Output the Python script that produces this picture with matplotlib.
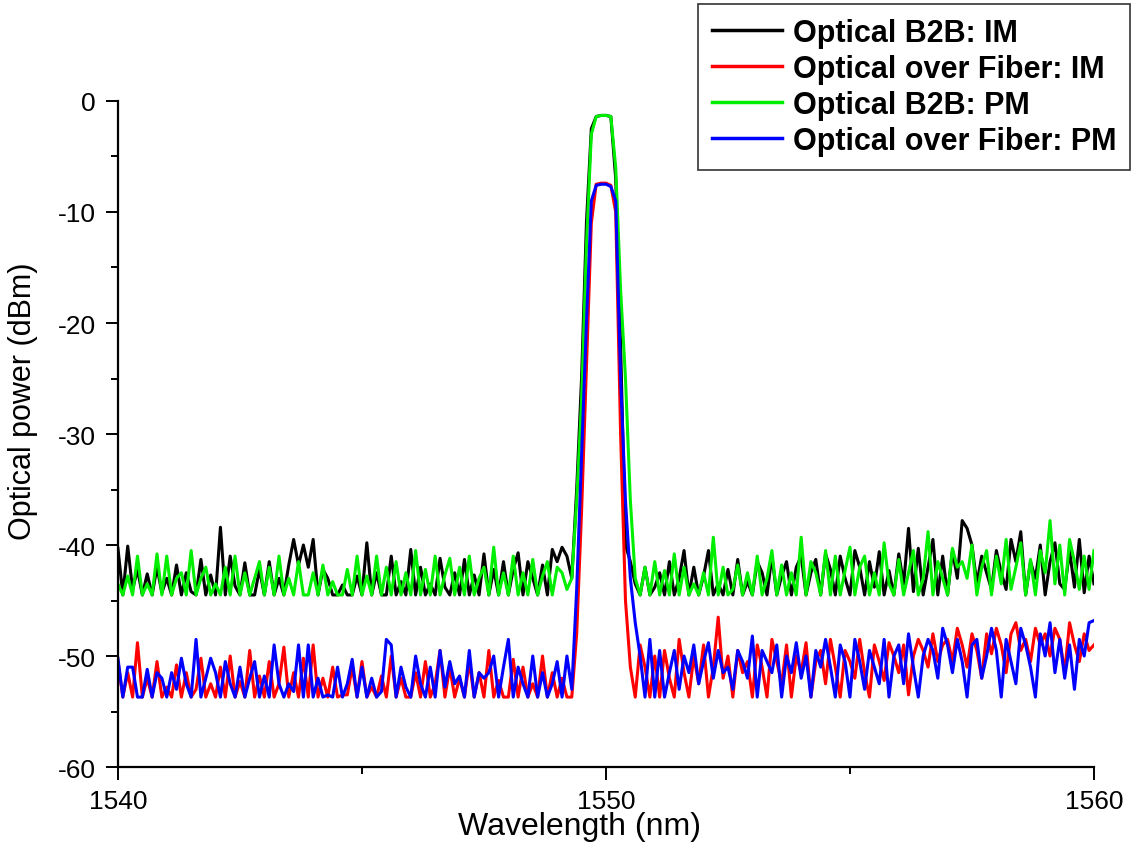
import numpy as np
import matplotlib
matplotlib.use("Agg")
import matplotlib.pyplot as plt
from matplotlib.ticker import MultipleLocator

# OSA sweep 1540-1560 nm, 0.1 nm resolution (201 samples)
wavelength = np.linspace(1540.0, 1560.0, 201)

# Optical B2B: IM (black)
b2b_im = [
    -40.3, -44.5, -40.1, -44.0, -42.2, -44.5, -42.6, -44.5, -42.0, -44.3,
    -43.0, -44.5, -41.8, -44.5, -42.5, -44.2, -44.5, -41.3, -44.5, -42.7,
    -44.5, -38.4, -44.5, -41.0, -43.7, -44.5, -41.6, -44.5, -44.5, -42.2,
    -44.5, -41.5, -44.5, -43.0, -44.5, -41.8, -39.5, -41.8, -40.0, -42.0,
    -39.5, -44.5, -42.2, -43.0, -44.5, -44.5, -43.6, -44.5, -44.5, -42.8,
    -44.5, -39.8, -44.5, -42.5, -44.5, -44.5, -41.0, -44.5, -43.3, -44.5,
    -40.4, -44.5, -42.0, -44.5, -43.5, -44.5, -41.2, -43.8, -44.5, -42.5,
    -44.5, -41.3, -44.5, -42.7, -44.5, -40.8, -44.5, -42.2, -44.5, -41.5,
    -44.5, -42.2, -40.7, -44.5, -41.5, -43.0, -44.5, -41.8, -44.5, -40.4,
    -41.5, -40.2, -41.0,
    # carrier 1549.3 - 1550.7
    -43.0, -35.0, -25.0, -11.0, -2.5, -1.4, -1.3, -1.3, -1.4, -7.0,
    -22.0, -40.0, -41.5, -43.5, -44.5,
    -42.0, -44.5,
    -43.8, -42.5, -44.5, -41.5, -44.5, -43.0, -40.5, -44.5, -42.0, -44.5,
    -42.8, -40.5, -44.5, -43.5, -44.5, -42.2, -44.5, -41.3, -44.5, -43.3,
    -44.5, -41.5, -42.5, -44.5, -41.0, -44.5, -42.8, -41.5, -44.5, -42.0,
    -41.0, -44.5, -42.5, -41.3, -44.5, -40.8, -42.2, -44.5, -41.0, -43.0,
    -44.5, -40.5, -42.0, -44.5, -41.5, -43.8, -40.6, -44.5, -42.3, -44.5,
    -40.8, -43.5, -38.5, -44.2, -40.3, -44.5, -42.0, -39.5, -44.5, -41.0,
    -44.5, -40.5, -43.0, -37.8, -38.5, -40.0, -43.5, -41.0, -42.5, -44.0,
    -40.5, -42.5, -44.0, -39.5, -41.5, -38.8, -44.5, -41.5, -43.0, -40.0,
    -44.5, -41.5, -39.8, -43.5, -44.0, -40.5, -43.8, -39.5, -44.3, -41.0,
    -43.5,
]

# Optical over Fiber: IM (red)
fiber_im = [
    -50.5, -53.7, -51.5, -53.7, -48.8, -53.7, -52.0, -53.7, -50.5, -53.7,
    -52.8, -53.7, -50.8, -53.7, -51.5, -53.7, -53.0, -50.2, -53.7, -52.5,
    -53.7, -51.0, -53.7, -50.0, -53.7, -52.3, -53.7, -49.5, -53.7, -51.8,
    -53.7, -50.5, -53.7, -52.5, -49.2, -53.7, -51.5, -53.7, -50.2, -53.7,
    -49.0, -53.7, -52.0, -53.7, -51.0, -53.7, -53.5, -53.5, -51.0, -53.7,
    -50.5, -53.7, -52.8, -53.7, -51.8, -53.7, -50.0, -53.7, -52.0, -53.7,
    -53.7, -51.5, -53.7, -50.5, -53.7, -52.5, -49.5, -53.7, -51.0, -53.7,
    -52.0, -53.7, -50.5, -53.7, -51.5, -53.7, -49.5, -53.7, -52.2, -53.7,
    -53.7, -50.3, -53.7, -51.0, -53.7, -52.5, -53.7, -50.0, -53.7, -51.5,
    -53.7, -52.0, -53.7,
    -53.7, -48.0, -37.0, -24.0, -11.0, -7.5, -7.4, -7.4, -7.6, -10.0,
    -30.0, -45.0, -51.0, -53.7, -49.0,
    -51.0, -53.7,
    -50.0, -53.7, -49.5, -52.0, -53.7, -48.5, -51.5, -53.7, -50.0, -52.5,
    -49.0, -53.7, -51.0, -46.5, -52.0, -50.0, -53.7, -49.5, -51.5, -50.5,
    -53.7, -49.0, -51.0, -53.7, -48.5, -50.5, -52.5, -49.0, -53.7, -50.0,
    -51.5, -48.8, -53.7, -50.5, -49.5, -52.5, -48.5, -51.0, -53.7, -49.5,
    -50.5, -52.0, -48.5, -51.5, -53.7, -49.0, -50.5, -52.2, -48.8, -50.0,
    -51.5, -49.0, -53.5, -50.0, -48.5, -49.5, -51.0, -48.0, -50.5, -49.0,
    -48.5, -50.5, -47.5, -49.0, -51.0, -48.0, -49.5, -52.0, -48.0, -49.8,
    -47.5, -49.0, -51.5, -48.0, -47.0, -49.5, -48.5, -50.5, -47.5, -49.0,
    -48.0, -50.0, -47.5, -48.5, -51.5, -47.0, -49.0, -50.5, -48.0, -49.5,
    -49.0,
]

# Optical B2B: PM (green)
b2b_pm = [
    -43.5, -44.5, -42.8, -44.5, -41.0, -44.5, -43.5, -44.5, -40.8, -44.5,
    -41.0, -44.5, -43.0, -42.5, -44.5, -40.5, -44.5, -43.0, -42.0, -44.5,
    -43.5, -44.5, -42.0, -44.5, -41.0, -44.5, -42.5, -44.5, -43.0, -41.5,
    -44.5, -42.0, -44.5, -41.0, -44.5, -43.0, -44.5, -41.5, -44.5, -44.5,
    -42.5, -44.5, -41.8, -44.5, -43.3, -44.5, -44.5, -42.2, -44.5, -41.0,
    -44.5, -42.8, -44.5, -41.0, -44.5, -42.0, -44.5, -41.5, -44.5, -42.5,
    -44.5, -40.5, -44.5, -42.2, -44.5, -41.0, -44.5, -42.7, -41.2, -44.5,
    -42.0, -44.5, -41.0, -44.5, -43.0, -42.0, -44.5, -40.2, -44.5, -42.5,
    -44.5, -41.0, -44.5, -42.5, -44.5, -41.3, -44.5, -42.8, -41.5, -44.5,
    -42.0, -42.5, -44.0,
    -43.0, -36.0, -27.0, -13.0, -3.0, -1.4, -1.3, -1.3, -1.4, -6.0,
    -17.0, -25.0, -36.0, -43.0, -44.5,
    -42.0, -44.5,
    -41.5, -44.5, -42.3, -44.5, -40.8, -44.5, -42.0, -44.5, -43.5, -44.5,
    -42.5, -44.5, -39.3, -44.5, -42.0, -44.5, -44.0, -41.8, -44.5, -42.5,
    -44.5, -41.0, -44.5, -43.0, -40.5, -44.5, -41.8, -44.5, -42.5, -44.5,
    -39.3, -44.5, -41.5, -42.5, -44.5, -40.5, -44.5, -41.0, -44.5, -42.3,
    -40.2, -44.5, -42.0, -41.0, -44.5, -42.5, -44.5, -39.8, -43.5, -44.5,
    -41.3, -44.5, -42.5, -40.5, -44.5, -43.0, -38.8, -44.5, -41.5, -43.0,
    -44.5, -40.3, -42.0, -41.5, -43.0, -40.0, -44.5, -42.0, -40.5, -44.5,
    -41.0, -43.5, -39.5, -44.0, -42.0, -39.8, -44.5, -41.3, -44.5, -40.5,
    -42.5, -37.8, -43.5, -40.0, -44.5, -39.5, -41.5, -44.0, -41.0, -44.0,
    -40.5,
]

# Optical over Fiber: PM (blue)
fiber_pm = [
    -50.2, -53.7, -51.0, -51.0, -53.7, -53.7, -51.2, -53.7, -51.5, -52.0,
    -53.7, -51.5, -53.0, -50.2, -52.5, -53.7, -48.5, -53.7, -52.0, -50.2,
    -51.5, -53.7, -50.5, -52.5, -53.7, -51.0, -53.7, -52.0, -50.5, -53.7,
    -51.8, -53.7, -49.0, -52.5, -53.7, -52.5, -53.2, -49.0, -53.7, -49.0,
    -53.7, -52.0, -53.7, -53.5, -53.7, -51.0, -53.7, -52.5, -50.3, -53.7,
    -51.0, -53.7, -52.0, -53.7, -53.2, -48.5, -49.0, -53.7, -51.0, -52.8,
    -53.7, -50.0, -52.5, -53.7, -51.0, -53.7, -49.5, -52.8, -50.5, -52.5,
    -51.8, -53.7, -49.5, -53.7, -51.5, -52.0, -51.5, -50.0, -53.7, -51.0,
    -48.5, -53.7, -51.0, -52.5, -53.7, -50.0, -53.7, -51.5, -53.7, -52.5,
    -50.5, -53.7, -50.0,
    -53.0, -44.0, -32.0, -20.0, -9.0, -7.6, -7.5, -7.5, -7.7, -9.0,
    -25.0, -36.0, -43.0, -47.0, -50.0,
    -53.7, -48.5,
    -53.7, -49.5, -53.7, -51.5, -49.5, -53.0, -50.0, -51.5, -49.0, -52.5,
    -50.5, -48.8, -52.0, -49.5, -51.5, -51.0, -53.0, -49.5, -50.5, -52.0,
    -48.2, -53.7, -49.5, -50.5, -51.5, -49.0, -53.7, -50.0, -51.5, -48.8,
    -52.0, -50.0, -53.7, -49.5, -51.0, -48.5, -51.0, -53.7, -49.0, -50.5,
    -53.7, -48.5, -50.5, -53.0, -49.5, -51.0, -52.5, -48.5, -53.7, -50.0,
    -49.0, -52.5, -48.0, -51.0, -53.7, -50.0, -48.5, -49.5, -52.0, -47.5,
    -49.0, -51.5, -48.5, -50.5, -53.7, -49.0, -48.5, -52.0, -50.0, -47.5,
    -49.5, -53.7, -48.5, -50.5, -52.5, -47.5, -49.0, -51.0, -53.7, -48.0,
    -50.0, -47.0, -51.5, -48.5, -52.0, -49.0, -53.0, -48.5, -50.0, -47.0,
    -46.8,
]

labels = ['Optical B2B: IM', 'Optical over Fiber: IM',
          'Optical B2B: PM', 'Optical over Fiber: PM']
colors = ['#000000', '#ff0000', '#00ee00', '#0000ff']

plt.rcParams['font.family'] = ['Liberation Sans', 'DejaVu Sans']
plt.rcParams['axes.unicode_minus'] = False

fig = plt.figure(figsize=(11.32, 8.45), dpi=100)
ax = fig.add_axes([0.1042, 0.0911, 0.8622, 0.7882])

for ys, lab, c in zip([b2b_im, fiber_im, b2b_pm, fiber_pm], labels, colors):
    ax.plot(wavelength, ys, color=c, lw=2.2, label=lab)

ax.set_xlim(1540, 1560)
ax.set_ylim(-60, 0)
ax.xaxis.set_major_locator(MultipleLocator(10))
ax.xaxis.set_minor_locator(MultipleLocator(5))
ax.yaxis.set_major_locator(MultipleLocator(10))
ax.yaxis.set_minor_locator(MultipleLocator(5))

for s in ['top', 'right']:
    ax.spines[s].set_visible(False)
for s in ['left', 'bottom']:
    ax.spines[s].set_linewidth(1.6)

ax.tick_params(which='major', direction='out', length=9, width=1.4,
               labelsize=19, pad=7)
ax.tick_params(which='minor', direction='out', length=5, width=1.4)

ax.set_xlabel('Wavelength (nm)', fontsize=23)
ax.set_ylabel('Optical power (dBm)', fontsize=22)
ax.xaxis.set_label_coords(0.473, -0.066)
ax.yaxis.set_label_coords(-0.082, 0.551)

leg = fig.legend(loc='upper right', bbox_to_anchor=(1130 / 1132, 1 - 5 / 845),
                 prop={'weight': 'bold', 'size': 22},
                 frameon=True, fancybox=False, edgecolor='black',
                 handlelength=2.3, handletextpad=0.35, labelspacing=0.2,
                 borderpad=0.45, borderaxespad=0)
leg.get_frame().set_linewidth(1.2)
for h in leg.get_lines():
    h.set_linewidth(2.5)

fig.savefig('out.png', dpi=100)
